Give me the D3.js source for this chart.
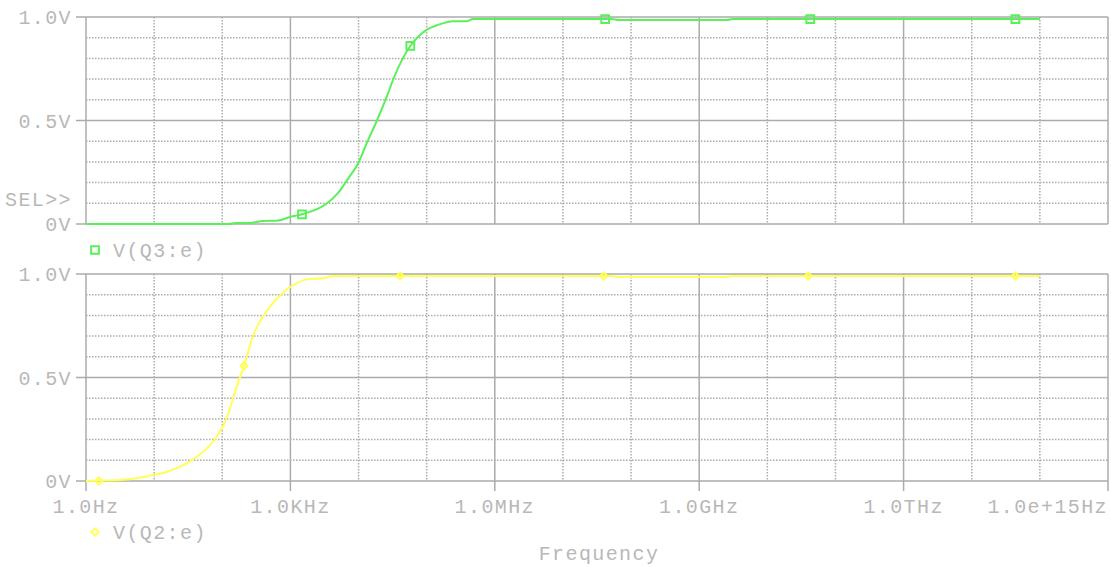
<!DOCTYPE html>
<html><head><meta charset="utf-8">
<script src="https://cdn.jsdelivr.net/npm/d3@7"></script>
<style>
html,body{margin:0;padding:0;background:#fff;}
svg text{font-family:"Liberation Mono","Courier New",monospace;fill:#b8b8b8;font-size:20px;letter-spacing:1.4px;}
</style></head>
<body>
<svg id="chart" width="1111" height="567"></svg>
<script>
// ---- data (frequency as log10(Hz), voltage in V) ----
const q3LogFreq = [0, 2.1, 2.2, 2.4, 2.6, 2.8, 3.0, 3.17, 3.54, 3.70, 3.87, 3.99, 4.12, 4.27, 4.42, 4.51, 4.65, 4.76, 4.86, 5.01, 5.15, 5.39, 5.59, 5.68, 6.08, 7.6, 7.72, 7.82, 9.4, 9.5, 14];
const q3Volts   = [0, 0, 0.005, 0.005, 0.015, 0.016, 0.035, 0.047, 0.10, 0.15, 0.23, 0.29, 0.39, 0.50, 0.62, 0.70, 0.80, 0.86, 0.90, 0.94, 0.96, 0.98, 0.98, 0.99, 0.99, 0.99, 0.99, 0.985, 0.985, 0.99, 0.99];
const q3MarkLogFreq = [3.17, 4.76, 7.62, 10.63, 13.64];
const q3MarkVolts   = [0.047, 0.86, 0.99, 0.99, 0.99];

const q2LogFreq = [0, 0.19, 0.5, 0.79, 0.94, 1.19, 1.5, 1.78, 1.91, 2.06, 2.21, 2.32, 2.45, 2.63, 2.89, 3.04, 3.24, 3.48, 3.63, 6.0, 7.6, 7.72, 7.82, 9.4, 9.5, 14];
const q2Volts   = [0, 0.002, 0.005, 0.016, 0.026, 0.045, 0.09, 0.16, 0.21, 0.30, 0.455, 0.557, 0.70, 0.81, 0.91, 0.946, 0.974, 0.98, 0.99, 0.99, 0.99, 0.99, 0.985, 0.985, 0.99, 0.99];
const q2MarkLogFreq = [0.19, 2.32, 4.61, 7.60, 10.6, 13.64];
const q2MarkVolts   = [0.0, 0.557, 0.99, 0.99, 0.99, 0.99];

const xTickValues = [1, 1e3, 1e6, 1e9, 1e12, 1e15];
const xTickLabels = ["1.0Hz", "1.0KHz", "1.0MHz", "1.0GHz", "1.0THz", "1.0e+15Hz"];
const yTickValues = [0, 0.5, 1.0];
const yTickLabels = ["0V", "0.5V", "1.0V"];
const seriesNames = ["V(Q3:e)", "V(Q2:e)"];

// ---- layout ----
const svg = d3.select("#chart");
const left = 86, right = 1108;
const gridCol = "#ababab";
const green = "#5af05a", yellow = "#ffff55";
const x = d3.scaleLog().domain([1, 1e15]).range([left, right]);
const minorDecades = d3.range(0, 16).map(e => Math.pow(10, e));
const minorV = d3.range(1, 10).map(i => i / 10);

function markerPath(kind) {
  return kind === "square" ? d3.symbol().type(d3.symbolSquare).size(60)() : d3.symbol().type(d3.symbolSquare).size(26)();
}
function markerRot(kind) { return kind === "square" ? "" : " rotate(45)"; }

function panel(top, bottom, logF, volts, markF, markV, color, marker, name, legendY, showXTicks) {
  const y = d3.scaleLinear().domain([0, 1]).range([bottom, top]);
  const g = svg.append("g");
  // dotted minor grid
  g.selectAll(".vd").data(minorDecades.filter(d => xTickValues.indexOf(d) < 0)).enter().append("line")
    .attr("x1", d => x(d)).attr("x2", d => x(d)).attr("y1", top).attr("y2", bottom)
    .attr("stroke", gridCol).attr("stroke-width", 1.5).attr("stroke-dasharray", "1.5,1.5");
  g.selectAll(".hd").data(minorV.filter(v => v !== 0.5)).enter().append("line")
    .attr("x1", left).attr("x2", right).attr("y1", d => y(d)).attr("y2", d => y(d))
    .attr("stroke", gridCol).attr("stroke-width", 1.5).attr("stroke-dasharray", "1.5,1.5");
  // solid major grid
  g.selectAll(".vs").data(xTickValues).enter().append("line")
    .attr("x1", d => x(d)).attr("x2", d => x(d)).attr("y1", top).attr("y2", bottom)
    .attr("stroke", gridCol).attr("stroke-width", 1.5);
  g.selectAll(".hs").data(yTickValues).enter().append("line")
    .attr("x1", left).attr("x2", right).attr("y1", d => y(d)).attr("y2", d => y(d))
    .attr("stroke", gridCol).attr("stroke-width", 1.5);
  // y ticks and labels
  g.selectAll(".yt").data(yTickValues).enter().append("line")
    .attr("x1", left - 10).attr("x2", left).attr("y1", d => y(d)).attr("y2", d => y(d))
    .attr("stroke", gridCol).attr("stroke-width", 1.5);
  g.selectAll(".yl").data(yTickValues).enter().append("text")
    .attr("x", 72).attr("y", d => y(d) + 7).attr("text-anchor", "end")
    .text((d, i) => yTickLabels[i]);
  if (showXTicks) {
    g.selectAll(".xt").data(xTickValues).enter().append("line")
      .attr("x1", d => x(d)).attr("x2", d => x(d)).attr("y1", bottom).attr("y2", bottom + 10)
      .attr("stroke", gridCol).attr("stroke-width", 1.5);
    g.selectAll(".xl").data(xTickValues).enter().append("text")
      .attr("x", d => x(d)).attr("y", bottom + 32)
      .attr("text-anchor", (d, i) => i === xTickValues.length - 1 ? "end" : "middle")
      .text((d, i) => xTickLabels[i]);
  }
  // curve
  const pts = logF.map((f, i) => [Math.pow(10, f), volts[i]]);
  g.append("path").datum(pts)
    .attr("d", d3.line().x(d => x(d[0])).y(d => y(d[1])).curve(d3.curveMonotoneX))
    .attr("fill", "none").attr("stroke", color).attr("stroke-width", 2);
  // markers
  const mpts = markF.map((f, i) => [Math.pow(10, f), markV[i]]);
  g.selectAll(".mk").data(mpts).enter().append("path")
    .attr("d", markerPath(marker))
    .attr("transform", d => `translate(${x(d[0])},${y(d[1])})${markerRot(marker)}`)
    .attr("fill", "none").attr("stroke", color).attr("stroke-width", 2);
  // legend
  svg.append("path").attr("d", markerPath(marker))
    .attr("transform", `translate(95,${legendY})${markerRot(marker)}`)
    .attr("fill", "none").attr("stroke", color).attr("stroke-width", 2);
  svg.append("text").attr("x", 113).attr("y", legendY + 7).text(name);
  return y;
}

panel(17, 224, q3LogFreq, q3Volts, q3MarkLogFreq, q3MarkVolts, green, "square", seriesNames[0], 250, false);
panel(274, 481, q2LogFreq, q2Volts, q2MarkLogFreq, q2MarkVolts, yellow, "diamond", seriesNames[1], 532, true);

svg.append("text").attr("x", 72).attr("y", 206).attr("text-anchor", "end").text("SEL>>");
svg.append("text").attr("x", 599).attr("y", 560).attr("text-anchor", "middle").text("Frequency");
</script>
</body></html>
